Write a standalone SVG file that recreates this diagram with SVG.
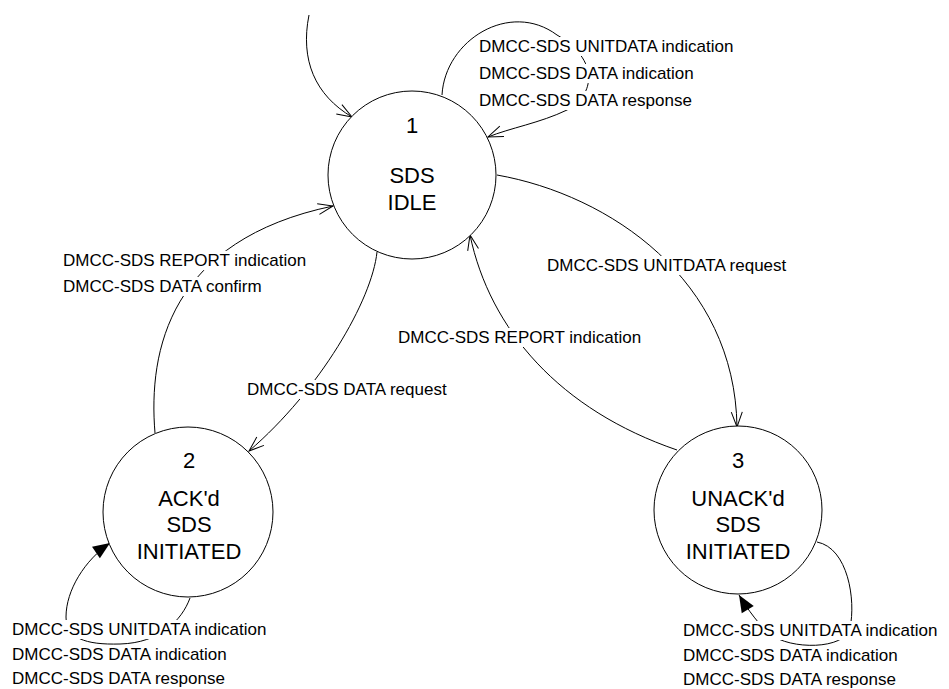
<svg xmlns="http://www.w3.org/2000/svg" width="949" height="689" viewBox="0 0 949 689">
<defs>
<style>
.st{fill:#fff;stroke:#000;stroke-width:1}
.nt{font-family:"Liberation Sans",Arial,sans-serif;font-size:22px;fill:#000;text-anchor:middle}
.lt{font-family:"Liberation Sans",Arial,sans-serif;font-size:17px;fill:#000}
.bg{fill:#fff;stroke:none}
.ed{fill:none;stroke:#000;stroke-width:1}
</style>
<marker id="open" markerUnits="userSpaceOnUse" markerWidth="20" markerHeight="14" viewBox="-1 -7 17 14" refX="15" refY="0" orient="auto">
<path d="M0,-5.5 L15,0 L0,5.5" fill="none" stroke="#000" stroke-width="1"/>
</marker>
<marker id="filled" markerUnits="userSpaceOnUse" markerWidth="20" markerHeight="16" viewBox="0 -8 18 16" refX="17" refY="0" orient="auto">
<path d="M0,-7 L17,0 L0,7 Z" fill="#000" stroke="none"/>
</marker>
</defs>
<rect width="949" height="689" fill="#fff"/>
<g id="connectors">
<path id="e-init" class="ed" marker-end="url(#open)" d="M309,15 C300,60 315,95 352,117"/>
<path id="e-1-1" class="ed" marker-end="url(#open)" d="M442,95 C445,40 510,0 557,35 C600,60 595,95 567,110 C540,123 510,128 488,137"/>
<path id="e-2-1" class="ed" marker-end="url(#open)" d="M155,433 C148,350 170,240 333,206"/>
<path id="e-1-2" class="ed" marker-end="url(#open)" d="M377,252 C372,300 320,390 249,451"/>
<path id="e-1-3" class="ed" marker-end="url(#open)" d="M497,175 C610,195 735,280 737,427"/>
<path id="e-3-1" class="ed" marker-end="url(#open)" d="M677,450 C560,410 490,330 470,235"/>
<path id="e-2-2" class="ed" marker-end="url(#filled)" d="M190,598 C182,620 160,643 120,644 C85,645 66,638 66,617 C66,590 85,560 110,543"/>
<path id="e-3-3" class="ed" marker-end="url(#filled)" d="M817,542 C848,548 856,600 850,628 C845,650 790,650 770,634 C760,626 748,610 739,595"/>
</g>
<g id="labels">
<g id="l-1-1">
<rect class="bg" x="477" y="37" width="262" height="19"/>
<rect class="bg" x="477" y="64" width="230" height="19"/>
<rect class="bg" x="477" y="91" width="226" height="19"/>
<text class="lt" x="479" y="52">DMCC-SDS UNITDATA indication</text>
<text class="lt" x="479" y="79">DMCC-SDS DATA indication</text>
<text class="lt" x="479" y="106">DMCC-SDS DATA response</text>
</g>
<g id="l-2-1">
<rect class="bg" x="61" y="251" width="248" height="19"/>
<rect class="bg" x="61" y="277" width="208" height="19"/>
<text class="lt" x="63" y="266">DMCC-SDS REPORT indication</text>
<text class="lt" x="63" y="292">DMCC-SDS DATA confirm</text>
</g>
<g id="l-1-2">
<rect class="bg" x="245" y="380" width="212" height="19"/>
<text class="lt" x="247" y="395">DMCC-SDS DATA request</text>
</g>
<g id="l-1-3">
<rect class="bg" x="545" y="256" width="258" height="19"/>
<text class="lt" x="547" y="271">DMCC-SDS UNITDATA request</text>
</g>
<g id="l-3-1">
<rect class="bg" x="396" y="328" width="248" height="19"/>
<text class="lt" x="398" y="343">DMCC-SDS REPORT indication</text>
</g>
<g id="l-2-2">
<rect class="bg" x="10" y="620" width="265" height="19"/>
<rect class="bg" x="10" y="645" width="230" height="19"/>
<rect class="bg" x="10" y="669" width="226" height="20"/>
<text class="lt" x="12" y="635">DMCC-SDS UNITDATA indication</text>
<text class="lt" x="12" y="660">DMCC-SDS DATA indication</text>
<text class="lt" x="12" y="684">DMCC-SDS DATA response</text>
</g>
<g id="l-3-3">
<rect class="bg" x="681" y="621" width="265" height="19"/>
<rect class="bg" x="681" y="646" width="230" height="19"/>
<rect class="bg" x="681" y="670" width="226" height="19"/>
<text class="lt" x="683" y="636">DMCC-SDS UNITDATA indication</text>
<text class="lt" x="683" y="661">DMCC-SDS DATA indication</text>
<text class="lt" x="683" y="685">DMCC-SDS DATA response</text>
</g>
</g>
<g id="node-1">
<circle class="st" cx="412" cy="175" r="84"/>
<text class="nt" x="412" y="133">1</text>
<text class="nt" x="412" y="183">SDS</text>
<text class="nt" x="412" y="210">IDLE</text>
</g>
<g id="node-2">
<circle class="st" cx="188" cy="512" r="85"/>
<text class="nt" x="189" y="468">2</text>
<text class="nt" x="189" y="506">ACK'd</text>
<text class="nt" x="189" y="532">SDS</text>
<text class="nt" x="189" y="559">INITIATED</text>
</g>
<g id="node-3">
<circle class="st" cx="738" cy="510" r="84"/>
<text class="nt" x="738" y="468">3</text>
<text class="nt" x="738" y="506">UNACK'd</text>
<text class="nt" x="738" y="532">SDS</text>
<text class="nt" x="738" y="559">INITIATED</text>
</g>
</svg>
